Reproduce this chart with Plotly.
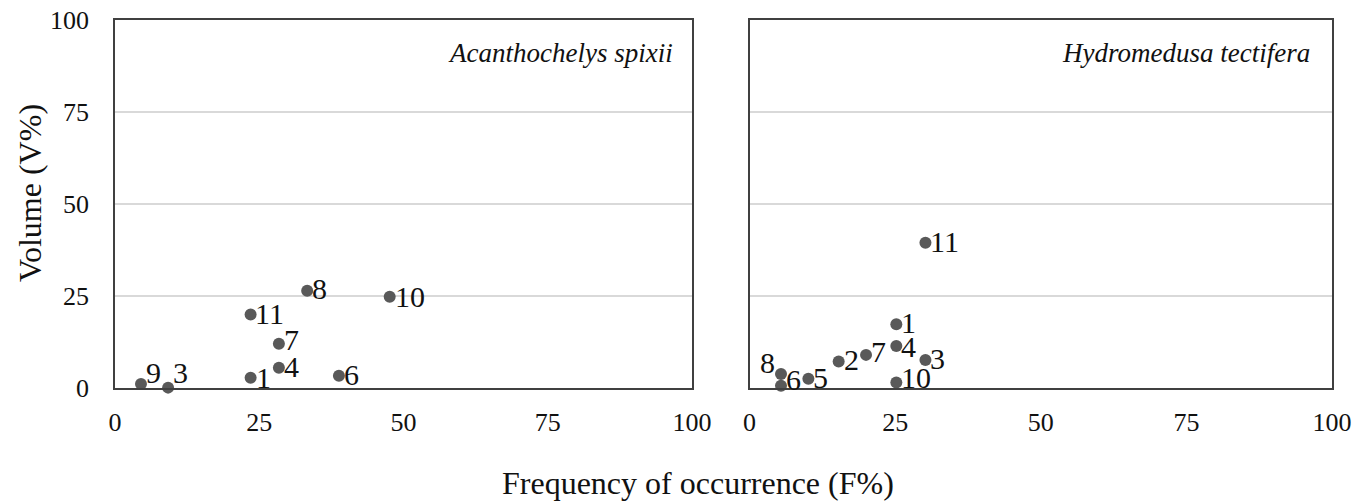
import plotly.graph_objects as go

# Acanthochelys spixii
a_labels = ["9", "3", "1", "11", "7", "4", "8", "10", "6"]
a_freq = [4.5, 9.2, 23.5, 23.5, 28.4, 28.4, 33.3, 47.6, 38.8]
a_vol = [1.1, 0.1, 2.8, 20.0, 12.0, 5.5, 26.4, 24.8, 3.3]

# Hydromedusa tectifera
h_labels = ["11", "1", "4", "3", "7", "2", "5", "8", "6", "10"]
h_freq = [30.2, 25.2, 25.2, 30.2, 20.0, 15.3, 10.1, 5.4, 5.4, 25.2]
h_vol = [39.5, 17.3, 11.4, 7.6, 9.0, 7.2, 2.5, 3.8, 0.6, 1.5]

ticks = [0, 25, 50, 75, 100]

# label placement styles (pixel offsets from each marker)
a_style = {"9": (3, 11), "3": (3, 15), "1": (3, 0), "11": (2, 1), "7": (3, 4),
           "4": (3, 1), "8": (3, 2), "10": (3, 0), "6": (3, 1)}
h_style = {"11": (3, 1), "1": (3, 2), "4": (3, 0), "3": (3, 2), "7": (3, 3),
           "2": (3, 2), "5": (3, 1), "8": (-4, 12), "6": (3, 6), "10": (3, 5)}

serif = "Liberation Serif, Times New Roman, serif"
mcol = "#595959"
tcol = "#111111"

fig = go.Figure()
fig.add_trace(go.Scatter(x=a_freq, y=a_vol, mode="markers", xaxis="x", yaxis="y",
                         marker=dict(size=12, color=mcol), cliponaxis=False,
                         showlegend=False, hoverinfo="skip"))
fig.add_trace(go.Scatter(x=h_freq, y=h_vol, mode="markers", xaxis="x2", yaxis="y2",
                         marker=dict(size=12, color=mcol), cliponaxis=False,
                         showlegend=False, hoverinfo="skip"))

annotations = []
for labs, xs, ys, style, xr, yr in [(a_labels, a_freq, a_vol, a_style, "x", "y"),
                                    (h_labels, h_freq, h_vol, h_style, "x2", "y2")]:
    for lab, xv, yv in zip(labs, xs, ys):
        dx, dy = style[lab]
        annotations.append(dict(
            text=lab, x=xv, y=yv, xref=xr, yref=yr, showarrow=False,
            xanchor="left" if dx >= 0 else "right", yanchor="middle",
            xshift=dx, yshift=dy,
            font=dict(family=serif, size=30, color=tcol)))

axis_common = dict(range=[0, 100], tickvals=ticks, showline=True, mirror=True,
                   linecolor="#404040", linewidth=1.5, ticks="", zeroline=False,
                   automargin=False,
                   tickfont=dict(family=serif, size=26, color=tcol))

annotations += [
    dict(text="<i>Acanthochelys spixii</i>", xref="x domain", yref="y domain",
         x=0.97, y=0.91, xanchor="right", yanchor="middle", showarrow=False,
         font=dict(family=serif, size=27, color=tcol)),
    dict(text="<i>Hydromedusa tectifera</i>", xref="x2 domain", yref="y2 domain",
         x=0.966, y=0.91, xanchor="right", yanchor="middle", showarrow=False,
         font=dict(family=serif, size=27, color=tcol)),
    dict(text="Frequency of occurrence (F%)", xref="paper", yref="paper",
         x=0.4787, y=-0.258, xanchor="center", yanchor="middle", showarrow=False,
         font=dict(family=serif, size=32, color=tcol)),
    dict(text="Volume (V%)", xref="paper", yref="paper", textangle=-90,
         x=-0.0698, y=0.53, xanchor="center", yanchor="middle", showarrow=False,
         font=dict(family=serif, size=32, color=tcol)),
]

fig.update_layout(
    width=1365, height=502,
    paper_bgcolor="white", plot_bgcolor="white",
    margin=dict(l=115, r=33, t=20, b=114),
    font=dict(family=serif, color=tcol),
    xaxis=dict(domain=[0, 0.4742], showgrid=False, ticklabelstandoff=10, **axis_common),
    xaxis2=dict(domain=[0.5214, 1], showgrid=False, ticklabelstandoff=10, **axis_common),
    yaxis=dict(anchor="x", showgrid=True, gridcolor="#d9d9d9", gridwidth=1.5,
               ticklabelstandoff=19, **axis_common),
    yaxis2=dict(anchor="x2", showgrid=True, gridcolor="#d9d9d9", gridwidth=1.5,
                showticklabels=False, **axis_common),
    annotations=annotations,
)

fig.write_html("out.html", config={"displayModeBar": False},
               post_script="document.body.style.margin='0';document.body.style.overflow='hidden';")
